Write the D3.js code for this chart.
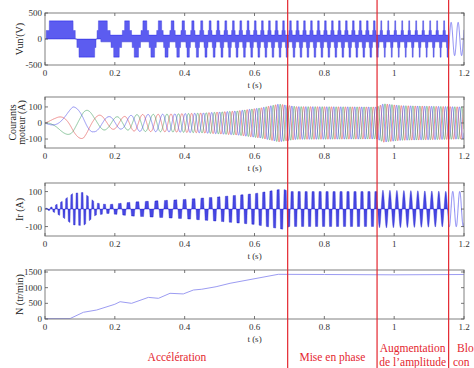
<!DOCTYPE html>
<html>
<head>
<meta charset="utf-8">
<script src="https://cdn.jsdelivr.net/npm/d3@7"></script>
<style>
  html, body { margin: 0; padding: 0; background: #fff; }
  svg { display: block; font-family: "Liberation Serif", "DejaVu Serif", serif; }
</style>
</head>
<body>
<svg id="chart" width="474" height="368"></svg>
<script>
// ---- data ----
const tTicks = [0, 0.2, 0.4, 0.6, 0.8, 1, 1.2];
const vTicks = [-500, 0, 500];
const iTicks = [-100, 0, 100];
const nTicks = [0, 500, 1000, 1500];

// phase boundaries (s) and their labels (last one is cut by the figure edge)
const phaseBounds = [0.695, 0.951, 1.156];
const phaseLabelT = [0.378, 0.823, 1.053, 1.18];
const phaseLabelText = [['Accélération'], ['Mise en phase'], ['Augmentation', 'de l\u2019amplitude'], ['Blo', 'con']];

// stator frequency (Hz) vs time
const freqT  = [0, 0.1, 0.15, 0.2, 0.26, 0.31, 0.35, 0.39, 0.45, 0.5, 0.6, 0.7, 1.2];
const freqHz = [4.5, 7, 11, 15, 19.6, 23, 28, 34, 41, 45, 49, 50, 50];

// line voltage levels (V) and the band that stays filled around zero
const vLevels = [165, 350];
const vBand = [-55, 75];
const vSineAmp = 320;

// motor currents envelope (A)
const curT   = [0, 0.03, 0.06, 0.08, 0.11, 0.14, 0.18, 0.22, 0.26, 0.35, 0.45, 0.55, 0.62, 0.67, 0.72, 0.95, 0.97, 1.02, 1.2];
const curAmp = [0, 30, 70, 100, 96, 55, 40, 38, 52, 55, 62, 75, 95, 118, 102, 100, 120, 108, 100];
const curPeakT = 0.081; // first peak of the blue phase

// Ir: envelope (A) and frequency (Hz)
const irT   = [0, 0.02, 0.05, 0.08, 0.11, 0.125, 0.145, 0.18, 0.25, 0.3, 0.4, 0.5, 0.6, 0.68, 0.7, 0.95, 0.96, 1.2];
const irAmp = [3, 12, 45, 90, 95, 70, 35, 25, 40, 45, 55, 70, 88, 115, 100, 100, 108, 100];
const irFreqT  = [0, 0.14, 0.2, 0.3, 0.4, 0.5, 0.6, 0.7, 1.2];
const irFreqHz = [70, 65, 42, 36, 38, 44, 48, 50, 50];

// speed (tr/min)
const speedT = [0, 0.072, 0.11, 0.148, 0.2, 0.215, 0.248, 0.296, 0.325, 0.358, 0.396, 0.425, 0.449, 0.49, 0.53, 0.668, 0.8, 1.0, 1.2];
const speedN = [15, 15, 214, 287, 470, 552, 500, 690, 660, 820, 800, 925, 950, 1030, 1140, 1426, 1420, 1410, 1420];

// ---- layout ----
const svg = d3.select('#chart');
const x = d3.scaleLinear().domain([0, 1.2]).range([45, 464]);
const red = '#e4262f';

const panels = [
  { top: 13,  bottom: 65,  domain: [-500, 500],  ticks: vTicks, label: ["Vun'(V)"] },
  { top: 97,  bottom: 148, domain: [-156, 162],  ticks: iTicks, label: ['Courants', 'moteur (A)'] },
  { top: 183, bottom: 236, domain: [-154, 149],  ticks: iTicks, label: ['Ir (A)'] },
  { top: 270, bottom: 319, domain: [0, 1564],    ticks: nTicks, label: ['N (tr/min)'] }
];
panels.forEach((p, i) => {
  p.y = d3.scaleLinear().domain(p.domain).range([p.bottom, p.top]);
  svg.append('clipPath').attr('id', 'clip' + i)
    .append('rect').attr('x', x(0)).attr('y', p.top)
    .attr('width', x(1.2) - x(0)).attr('height', p.bottom - p.top);
  p.g = svg.append('g').attr('clip-path', `url(#clip${i})`);
});

// ---- sampled signals ----
const dt = 0.0002;
const fScale = d3.scaleLinear().domain(freqT).range(freqHz).clamp(true);
const irfScale = d3.scaleLinear().domain(irFreqT).range(irFreqHz).clamp(true);
const curEnv = d3.scaleLinear().domain(curT).range(curAmp).clamp(true);
const irEnv = d3.scaleLinear().domain(irT).range(irAmp).clamp(true);

let ph = 0, phr = 0;
const samples = d3.range(0, 1.2 + dt / 2, dt).map((t, i) => {
  if (i > 0) { ph += 2 * Math.PI * fScale(t) * dt; phr += 2 * Math.PI * irfScale(t) * dt; }
  return { t, ph, phr };
});
const lag = samples[Math.round(curPeakT / dt)].ph - Math.PI / 2;

function stair(s, hi, lo) {
  const a = Math.abs(s);
  return Math.sign(s) * (a > hi ? vLevels[1] : a > lo ? vLevels[0] : 0);
}
samples.forEach(d => {
  const s = Math.sin(d.ph);
  const early = d.t < 0.16;
  d.v = d.t < phaseBounds[1] ? stair(s, early ? 0.35 : 0.72, 0.1) : stair(s, 0.9, 0.45);
  d.v0 = early ? Math.min(0, d.v) : Math.min(vBand[0], d.v);
  d.v1 = early ? Math.max(0, d.v) : Math.max(vBand[1], d.v);
  d.vs = vSineAmp * s;
  const th = d.ph - lag, A = curEnv(d.t);
  d.ia = A * Math.sin(th);
  d.ib = A * Math.sin(th - 2 * Math.PI / 3);
  d.ic = A * Math.sin(th + 2 * Math.PI / 3);
  const sr = Math.sin(d.phr), Ar = irEnv(d.t);
  const blk = Math.sign(sr) * Math.max(0, Math.min(1, (Math.abs(sr) - 0.22) * 3));
  d.ir = Ar * (d.t < phaseBounds[1] ? blk : sr);
  d.irs = Ar * sr;
});
const before = samples.filter(d => d.t <= phaseBounds[2]);
const after = samples.filter(d => d.t >= phaseBounds[2]);

// panel 1 : voltage
{
  const p = panels[0];
  p.g.append('path').datum(before)
    .attr('d', d3.area().x(d => x(d.t)).y0(d => p.y(d.v0)).y1(d => p.y(d.v1)))
    .attr('fill', '#5c5cf0').attr('stroke', '#3a3ad8').attr('stroke-width', 0.4);
  p.g.append('path').datum(after)
    .attr('d', d3.line().x(d => x(d.t)).y(d => p.y(d.vs)))
    .attr('fill', 'none').attr('stroke', '#6a6af0').attr('stroke-width', 0.8);
}

// panel 2 : motor currents
{
  const p = panels[1];
  [['ic', '#e04848'], ['ib', '#3f9f5f'], ['ia', '#4d4de8']].forEach(([k, c]) => {
    p.g.append('path').datum(samples)
      .attr('d', d3.line().x(d => x(d.t)).y(d => p.y(d[k])))
      .attr('fill', 'none').attr('stroke', c).attr('stroke-width', 0.7).attr('opacity', 0.85);
  });
}

// panel 3 : Ir
{
  const p = panels[2];
  p.g.append('path').datum(before)
    .attr('d', d3.area().x(d => x(d.t)).y0(p.y(0)).y1(d => p.y(d.ir)))
    .attr('fill', '#4646e2').attr('stroke', '#2e2ecc').attr('stroke-width', 0.4);
  p.g.append('path').datum(after)
    .attr('d', d3.line().x(d => x(d.t)).y(d => p.y(d.irs)))
    .attr('fill', 'none').attr('stroke', '#6a6af0').attr('stroke-width', 0.8);
}

// panel 4 : speed
{
  const p = panels[3];
  const pts = speedT.map((t, i) => ({ t, n: speedN[i] }));
  p.g.append('path').datum(pts)
    .attr('d', d3.line().x(d => x(d.t)).y(d => p.y(d.n)))
    .attr('fill', 'none').attr('stroke', '#9c9cf2').attr('stroke-width', 1);
}

// ---- frames, ticks, labels ----
panels.forEach(p => {
  const g = svg.append('g');
  g.append('rect').attr('x', x(0)).attr('y', p.top)
    .attr('width', x(1.2) - x(0)).attr('height', p.bottom - p.top)
    .attr('fill', 'none').attr('stroke', '#808080').attr('stroke-width', 1);
  tTicks.forEach(t => {
    g.append('line').attr('x1', x(t)).attr('x2', x(t)).attr('y1', p.top).attr('y2', p.top + 3)
      .attr('stroke', '#555').attr('stroke-width', 0.8);
    g.append('line').attr('x1', x(t)).attr('x2', x(t)).attr('y1', p.bottom).attr('y2', p.bottom - 3)
      .attr('stroke', '#555').attr('stroke-width', 0.8);
    g.append('text').attr('x', x(t)).attr('y', p.bottom + 11)
      .attr('text-anchor', 'middle').attr('font-size', 9).attr('fill', '#333').text(t);
  });
  p.ticks.forEach(v => {
    g.append('line').attr('x1', x(0)).attr('x2', x(0) + 3).attr('y1', p.y(v)).attr('y2', p.y(v))
      .attr('stroke', '#555').attr('stroke-width', 0.8);
    g.append('line').attr('x1', x(1.2)).attr('x2', x(1.2) - 3).attr('y1', p.y(v)).attr('y2', p.y(v))
      .attr('stroke', '#555').attr('stroke-width', 0.8);
    g.append('text').attr('x', 42).attr('y', p.y(v) + 3)
      .attr('text-anchor', 'end').attr('font-size', 9).attr('fill', '#333').text(v);
  });
  g.append('text').attr('x', x(0.6)).attr('y', p.bottom + 23)
    .attr('text-anchor', 'middle').attr('font-size', 9).attr('fill', '#333').text('t (s)');
  const cy = (p.top + p.bottom) / 2;
  const bx = p.label.length > 1 ? [16, 25] : [22.5];
  p.label.forEach((s, j) => {
    g.append('text').attr('transform', `translate(${bx[j]},${cy}) rotate(-90)`)
      .attr('text-anchor', 'middle').attr('font-size', 10).attr('fill', '#222').text(s);
  });
});

// ---- phase separators and captions ----
phaseBounds.forEach(t => {
  svg.append('line').attr('x1', x(t)).attr('x2', x(t)).attr('y1', 0).attr('y2', 368)
    .attr('stroke', red).attr('stroke-width', 1.2);
});
phaseLabelText.forEach((lines, i) => {
  const last = i === phaseLabelText.length - 1;
  const y0 = lines.length > 1 ? 352 : 361;
  lines.forEach((s, j) => {
    svg.append('text').attr('x', x(phaseLabelT[i]) - (last && j === 1 ? 4 : 0)).attr('y', y0 + j * 14)
      .attr('text-anchor', last ? 'start' : 'middle')
      .attr('font-size', 11.5).attr('fill', red).text(s);
  });
});
</script>
</body>
</html>
